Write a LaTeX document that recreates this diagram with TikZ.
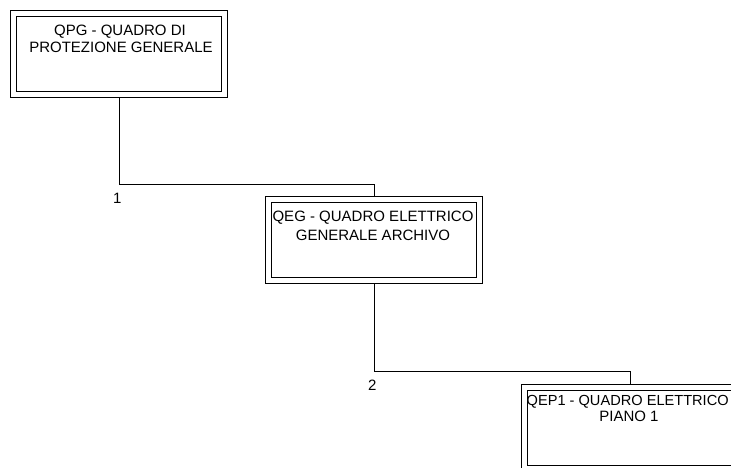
\documentclass[tikz,border=0pt]{standalone}
\usepackage{fontspec}
\setmainfont{Liberation Sans}
\usetikzlibrary{calc}
\begin{document}
\begin{tikzpicture}[x=1pt,y=-1pt,
  panel/.style={draw=black,line width=0.8pt,
    minimum width=217pt,minimum height=87pt,inner sep=0pt,outer sep=0pt},
  innerline/.style={draw=black,line width=0.8pt},
  ptext/.style={anchor=base,inner sep=0pt,font=\fontsize{15}{17}\selectfont},
  wire/.style={draw=black,line width=0.8pt},
  num/.style={anchor=base west,inner sep=0pt,font=\fontsize{15}{17}\selectfont}]
\useasboundingbox (0,0) rectangle (731,467);
% boxes
\node[panel] (qpg) at (119,54) {};
\node[panel] (qeg) at (374,240) {};
\node[panel] (qep) at (630,428) {};
\foreach \b in {qpg,qeg,qep}{
  \draw[innerline] ($(\b.north west)+(6,6)$) rectangle ($(\b.south east)+(-6,-6)$);
}
% texts
\node[ptext] (qpgA) at (120,35) {QPG - QUADRO DI};
\node[ptext] (qpgB) at (121,52.5) {PROTEZIONE GENERALE};
\node[ptext] (qegA) at (373,221) {QEG - QUADRO ELETTRICO};
\node[ptext] (qegB) at (373,240) {GENERALE ARCHIVO};
\node[ptext,anchor=base west,font=\fontsize{14.6}{17}\selectfont] (qepA) at (526.5,405) {QEP1 - QUADRO ELETTRICO};
\node[ptext] (qepB) at (629,421) {PIANO 1};
% connectors
\draw[wire] (qpg.south) -- ++(0,87) -| (qeg.north);
\draw[wire] (qeg.south) -- ++(0,88) -| (qep.north);
% labels
\node[num] (lab1) at (113,203) {1};
\node[num] (lab2) at (368,390) {2};
\end{tikzpicture}
\end{document}
